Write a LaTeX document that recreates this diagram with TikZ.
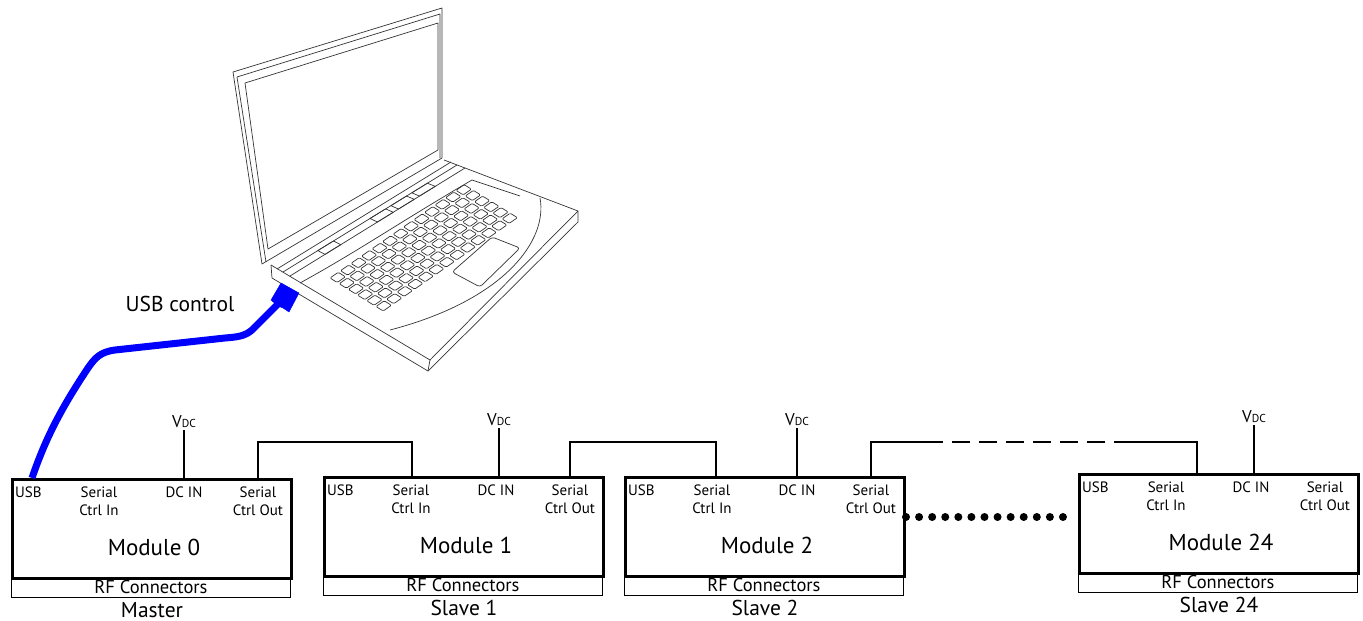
\documentclass[tikz,border=0pt]{standalone}
\usepackage{fontspec}
\setmainfont{PT Sans}
\usetikzlibrary{calc}
\tikzset{
  modbox/.style={draw, line width=2.8pt, minimum width=279pt, minimum height=99pt, anchor=north west, inner sep=0pt},
  rfbox/.style={draw, line width=0.8pt, minimum width=279pt, minimum height=20pt, anchor=north west, inner sep=0pt, font=\fontsize{18.5}{18.5}\selectfont},
  lbl/.style={inner sep=0pt, font=\fontsize{15}{15}\selectfont},
  modtxt/.style={inner sep=0pt, font=\fontsize{23}{23}\selectfont},
  bottxt/.style={inner sep=0pt, font=\fontsize{21.5}{21.5}\selectfont},
  vdc/.style={inner sep=3pt, font=\fontsize{17}{17}\selectfont},
  wire/.style={line width=1.2pt},
  lap/.style={draw=black!80, line width=0.7pt, line join=round},
  usbcable/.style={draw=blue, line width=7pt, line join=round},
}
\newcommand\modu[7]{% name, L, T, number, bottom label, in-offset, dc-offset
  \node[modbox] (#1) at (#2,#3) {};
  \node[rfbox] (#1rf) at (#2,#3+99) {RF Connectors};
  \node[lbl, anchor=base west] (#1usb) at (#2+4,#3+19) {USB};
  \node[lbl, anchor=base] (#1sinA) at (#2+88,#3+19) {Serial};
  \node[lbl, anchor=base] (#1sinB) at (#2+88,#3+37) {Ctrl In};
  \node[lbl, anchor=base] (#1dcl) at (#2+173,#3+19) {DC IN};
  \node[lbl, anchor=base] (#1soA) at (#2+247,#3+19) {Serial};
  \node[lbl, anchor=base] (#1soB) at (#2+247,#3+37) {Ctrl Out};
  \node[modtxt, anchor=base] (#1t) at (#2+143,#3+77) {Module #4};
  \node[bottxt, anchor=base] (#1b) at (#2+141,#3+139) {#5};
  \coordinate (#1in) at (#2+#6,#3);
  \coordinate (#1dc) at (#2+#7,#3);
  \coordinate (#1out) at (#2+247,#3);
  \coordinate (#1usbp) at (#2+21,#3);
  \node[vdc, anchor=base] (#1v) at (#2+#7,#3-51) {V{\fontsize{11.5}{11.5}\selectfont DC}};
  \draw[wire] (#1v.south) -- (#1dc);
}
\begin{document}
\begin{tikzpicture}[x=1pt,y=-1pt]
\useasboundingbox (0,0) rectangle (1363,621);

% ---------------- laptop ----------------
% lid
\draw[lap] (233,72) -- (442,8) -- (442,158) -- (262,264) -- cycle;
\draw[lap] (237,77) -- (440,14) -- (440,158);
\draw[lap] (237,77) -- (266,262);
\draw[lap] (245,83) -- (438,23) -- (438,150) -- (268,249) -- cycle;
% base top and thickness
\draw[lap] (271,265) -- (430,360) -- (578,211) -- (444,160);
\draw[lap] (271,265) -- (272,278) -- (428,371) -- (578,222) -- (578,211);
\draw[lap] (430,360) -- (428,371);
% hinge band
\coordinate (a1) at (277,269); \coordinate (b1) at (451,162);
\coordinate (a2) at (283,272); \coordinate (b2) at (457,165);
\coordinate (a3) at (290,276); \coordinate (b3) at (465,168);
\draw[lap] (a1) -- (b1);
\draw[lap] (a2) -- (b2);
\draw[lap] (a3) -- (b3);
\foreach \t in {0.2,0.5,0.62,0.74}{
  \draw[lap] ($(a2)!\t!(b2)$) -- ($(a2)!\t+0.09!(b2)$) -- ($(a3)!\t+0.09!(b3)$) -- ($(a3)!\t!(b3)$) -- cycle;
}
\draw[lap] (300,283) .. controls (360,250) and (400,222) .. (472,180) -- (520,196);
% keyboard
\foreach \i in {0,...,12}{
  \foreach \j in {0,...,5}{
    \draw[lap, rounded corners=1.2pt] ({330+10.5*\i+9.2*\j},{278-7.3*\i+5.7*\j}) -- ++(8.2,-5.7) -- ++(7.2,4.5) -- ++(-8.2,5.7) -- cycle;
  }
}
% touchpad and palm rest
\draw[lap, rounded corners=3pt] (452,272) -- (492,237) -- (520,248) -- (480,287) -- cycle;
\draw[lap] (540,198) .. controls (548,240) and (505,300) .. (390,330);

% USB plug and cable
\filldraw[blue] (281,283) -- (299,293) -- (289,312) -- (283,308) -- (278,306) -- (271,300) -- cycle;
\coordinate (plugend) at (278,304);
\node[inner sep=0pt, font=\fontsize{21.5}{21.5}\selectfont, anchor=base] (usbl) at (180,311) {USB control};

% ---------------- modules ----------------
\modu{m0}{11}{478}{0}{Master}{89}{173}
\modu{m1}{323}{476}{1}{Slave 1}{89}{176}
\modu{m2}{624}{476}{2}{Slave 2}{92}{173}
\modu{m24}{1078}{473}{24}{Slave 24}{119}{176}

\draw[usbcable] (plugend) -- (252,330) .. controls (245,336) and (238,337) .. (225,338)
  -- (115,350) .. controls (100,352) and (95,358) .. (88,368)
  .. controls (60,410) and (45,440) .. (m0usbp);

\coordinate (bus) at (0,442);
\draw[wire] (m0out) -- (m0out |- bus) -| (m1in);
\draw[wire] (m1out) -- (m1out |- bus) -| (m2in);
\coordinate (d1) at (925,442);
\coordinate (d2) at (1120,442);
\draw[wire] (m2out) |- (d1);
\draw[wire, dash pattern=on 18pt off 9pt] (d1) -- (d2);
\draw[wire] (d2) -| (m24in);

\coordinate (dotA) at (906,517);
\coordinate (dotB) at (1076,517);
\draw[line width=8pt, line cap=round, dash pattern=on 0pt off 13.08pt] (dotA) -- (dotB);
\end{tikzpicture}
\end{document}
